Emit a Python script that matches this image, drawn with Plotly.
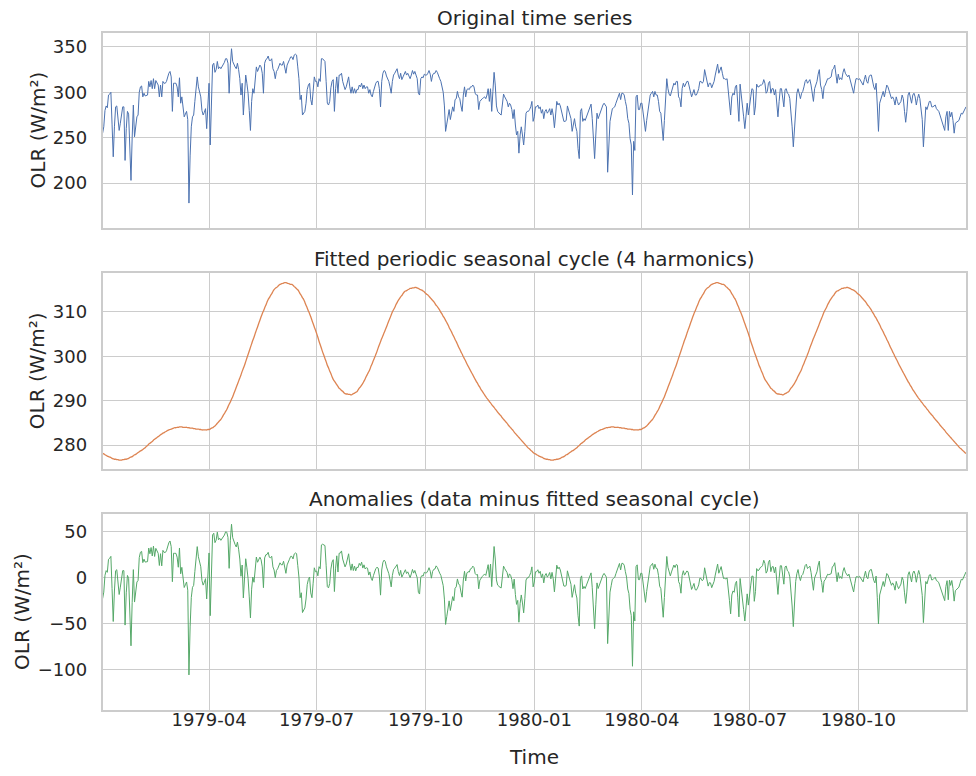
import numpy as np
import pandas as pd
import plotly.graph_objects as go

# ---------------- data ----------------
dates = pd.date_range("1979-01-01", "1980-12-31", freq="D")

olr = [
    255, 262, 280, 285, 283, 297, 298, 300, 265, 229,
    262, 284, 285, 270, 258, 266, 276, 284, 284, 225,
    260, 279, 276, 240, 203, 250, 286, 251, 265, 273,
    275, 300, 306, 307, 295, 299, 296, 297, 297, 312,
    306, 313, 304, 315, 304, 313, 310, 308, 295, 308,
    295, 312, 310, 310, 312, 318, 321, 323, 317, 279,
    310, 310, 310, 306, 295, 316, 288, 295, 282, 273,
    276, 279, 270, 178, 230, 262, 273, 275, 290, 305,
    317, 306, 300, 295, 280, 275, 278, 282, 260, 295,
    310, 242, 300, 330, 332, 322, 325, 334, 326, 328,
    326, 328, 330, 333, 337, 337, 332, 299, 330, 348,
    334, 330, 328, 326, 332, 325, 315, 297, 310, 275,
    293, 319, 310, 299, 280, 258, 290, 304, 299, 317,
    328, 323, 326, 330, 328, 321, 299, 332, 336, 337,
    340, 335, 335, 337, 326, 323, 315, 323, 325, 328,
    332, 330, 330, 334, 326, 321, 330, 334, 336, 339,
    339, 336, 341, 342, 341, 328, 315, 292, 297, 275,
    277, 279, 288, 303, 308, 310, 292, 286, 301, 317,
    312, 312, 306, 315, 312, 337, 337, 335, 334, 312,
    288, 286, 290, 305, 312, 314, 279, 304, 317, 299,
    319, 319, 321, 312, 306, 303, 306, 312, 317, 306,
    299, 306, 299, 304, 299, 303, 303, 308, 306, 310,
    304, 308, 304, 306, 306, 299, 303, 297, 295, 301,
    306, 310, 312, 312, 304, 284, 312, 321, 324, 323,
    318, 315, 312, 306, 299, 312, 319, 321, 324, 326,
    319, 315, 321, 314, 317, 321, 323, 319, 321, 318,
    315, 319, 324, 320, 323, 319, 315, 299, 297, 315,
    317, 316, 320, 319, 319, 321, 324, 320, 312, 319,
    321, 321, 324, 322, 317, 315, 312, 306, 300, 285,
    257, 265, 275, 281, 270, 278, 284, 279, 292, 293,
    301, 295, 293, 285, 279, 297, 306, 295, 303, 304,
    303, 306, 306, 308, 306, 299, 297, 297, 281, 290,
    292, 293, 294, 295, 293, 297, 304, 290, 304, 279,
    301, 322, 308, 285, 279, 277, 276, 275, 290, 298,
    295, 292, 290, 284, 288, 286, 281, 271, 281, 264,
    253, 257, 233, 253, 262, 253, 242, 257, 277, 279,
    279, 281, 284, 290, 268, 273, 284, 284, 286, 282,
    284, 277, 281, 271, 279, 281, 277, 279, 282, 275,
    282, 275, 261, 275, 290, 286, 288, 285, 279, 271,
    268, 268, 269, 285, 281, 275, 271, 257, 264, 271,
    262, 257, 238, 227, 279, 282, 268, 271, 269, 273,
    276, 279, 284, 287, 271, 253, 227, 253, 277, 271,
    275, 277, 282, 286, 288, 286, 284, 212, 242, 268,
    275, 282, 283, 284, 288, 292, 297, 299, 292, 299,
    299, 297, 290, 284, 271, 266, 249, 242, 187, 246,
    236, 295, 297, 281, 281, 288, 288, 275, 262, 257,
    269, 280, 288, 297, 299, 301, 295, 301, 297, 297,
    290, 279, 277, 260, 247, 269, 299, 315, 304, 298,
    296, 301, 306, 310, 308, 312, 312, 295, 293, 284,
    304, 310, 306, 309, 312, 312, 306, 303, 295, 299,
    303, 297, 297, 300, 304, 312, 312, 310, 312, 325,
    319, 310, 306, 310, 310, 305, 308, 312, 319, 326,
    331, 321, 326, 328, 321, 315, 315, 314, 315, 304,
    290, 275, 295, 299, 297, 306, 308, 290, 268, 309,
    299, 284, 273, 260, 275, 288, 275, 288, 295, 304,
    303, 275, 285, 309, 306, 306, 308, 308, 309, 314,
    310, 299, 301, 310, 312, 299, 304, 304, 297, 303,
    290, 273, 290, 304, 304, 290, 284, 303, 304, 299,
    298, 293, 279, 262, 240, 264, 290, 299, 304, 297,
    293, 299, 301, 306, 312, 314, 310, 312, 314, 308,
    301, 290, 304, 308, 312, 320, 325, 308, 303, 293,
    306, 308, 312, 315, 315, 316, 317, 325, 326, 330,
    321, 310, 320, 314, 316, 314, 322, 326, 321, 318,
    317, 319, 314, 312, 304, 299, 308, 315, 315, 314,
    315, 313, 310, 308, 314, 319, 312, 310, 317, 319,
    319, 312, 306, 303, 310, 286, 257, 288, 292, 297,
    301, 295, 304, 308, 306, 302, 297, 293, 295, 292,
    286, 295, 290, 286, 288, 290, 297, 293, 279, 267,
    279, 297, 300, 292, 288, 297, 299, 295, 286, 293,
    298, 293, 284, 270, 240, 268, 284, 281, 286, 290,
    290, 284, 284, 285, 286, 282, 281, 279, 275, 271,
    268, 262, 258, 273, 279, 258, 279, 273, 278, 269,
    255, 266, 267, 269, 269, 273, 277, 276, 279, 282,
    284,
]

# fitted seasonal cycle, one value per day of year (day 0 .. 365)
fit_year = [
    278.1, 278.0, 277.8, 277.7, 277.5, 277.4, 277.3, 277.2, 277.0, 276.9,
    276.8, 276.8, 276.7, 276.7, 276.6, 276.6, 276.6, 276.7, 276.7, 276.8,
    276.8, 276.9, 277.0, 277.2, 277.3, 277.4, 277.6, 277.8, 277.9, 278.1,
    278.3, 278.5, 278.7, 278.8, 279.0, 279.2, 279.4, 279.7, 279.9, 280.2,
    280.4, 280.6, 280.8, 281.1, 281.3, 281.5, 281.7, 281.9, 282.1, 282.3,
    282.5, 282.7, 282.8, 283.0, 283.1, 283.3, 283.4, 283.5, 283.6, 283.7,
    283.8, 283.9, 283.9, 284.0, 284.0, 284.1, 284.1, 284.1, 284.0, 284.0,
    284.0, 284.0, 283.9, 283.9, 283.8, 283.8, 283.8, 283.7, 283.7, 283.6,
    283.6, 283.6, 283.5, 283.5, 283.4, 283.4, 283.4, 283.4, 283.4, 283.5,
    283.5, 283.6, 283.8, 283.9, 284.1, 284.3, 284.6, 284.9, 285.2, 285.5,
    285.8, 286.2, 286.7, 287.1, 287.6, 288.0, 288.6, 289.2, 289.7, 290.3,
    290.9, 291.6, 292.3, 293.0, 293.7, 294.4, 295.1, 295.8, 296.6, 297.3,
    298.0, 298.8, 299.6, 300.4, 301.2, 302.0, 302.8, 303.6, 304.3, 305.1,
    305.9, 306.6, 307.4, 308.1, 308.9, 309.6, 310.2, 310.9, 311.5, 312.2,
    312.8, 313.2, 313.7, 314.1, 314.6, 315.0, 315.3, 315.5, 315.7, 316.0,
    316.2, 316.3, 316.4, 316.5, 316.6, 316.6, 316.5, 316.4, 316.3, 316.2,
    316.2, 316.0, 315.7, 315.5, 315.2, 315.0, 314.6, 314.1, 313.7, 313.2,
    312.8, 312.2, 311.5, 310.9, 310.2, 309.6, 308.9, 308.1, 307.4, 306.6,
    305.9, 305.1, 304.3, 303.4, 302.6, 301.8, 301.0, 300.3, 299.5, 298.8,
    298.0, 297.4, 296.7, 296.1, 295.4, 294.8, 294.4, 294.0, 293.6, 293.2,
    292.8, 292.6, 292.3, 292.1, 291.8, 291.6, 291.5, 291.5, 291.4, 291.4,
    291.3, 291.4, 291.6, 291.7, 291.9, 292.0, 292.4, 292.8, 293.1, 293.5,
    293.9, 294.4, 294.9, 295.5, 296.0, 296.5, 297.1, 297.8, 298.4, 299.1,
    299.7, 300.4, 301.1, 301.9, 302.6, 303.3, 304.0, 304.6, 305.3, 305.9,
    306.6, 307.3, 308.0, 308.6, 309.3, 310.0, 310.5, 311.0, 311.6, 312.1,
    312.6, 313.0, 313.4, 313.7, 314.1, 314.5, 314.7, 314.8, 315.0, 315.1,
    315.3, 315.3, 315.4, 315.4, 315.5, 315.5, 315.4, 315.3, 315.1, 315.0,
    314.9, 314.7, 314.5, 314.2, 314.0, 313.8, 313.5, 313.2, 312.9, 312.6,
    312.3, 311.9, 311.5, 311.2, 310.8, 310.4, 309.9, 309.5, 309.0, 308.6,
    308.1, 307.6, 307.1, 306.5, 306.0, 305.5, 304.9, 304.4, 303.8, 303.3,
    302.7, 302.1, 301.6, 301.0, 300.5, 299.9, 299.4, 298.9, 298.3, 297.8,
    297.3, 296.8, 296.3, 295.8, 295.3, 294.8, 294.3, 293.9, 293.4, 293.0,
    292.5, 292.1, 291.7, 291.3, 290.9, 290.5, 290.2, 289.8, 289.5, 289.1,
    288.8, 288.5, 288.1, 287.8, 287.4, 287.1, 286.8, 286.5, 286.1, 285.8,
    285.5, 285.2, 284.9, 284.5, 284.2, 283.9, 283.6, 283.3, 282.9, 282.6,
    282.3, 282.0, 281.7, 281.4, 281.1, 280.8, 280.5, 280.2, 279.9, 279.6,
    279.3, 279.1, 278.8, 278.6, 278.3, 278.1,
]

tick_dates = ["1979-04-01", "1979-07-01", "1979-10-01", "1980-01-01",
              "1980-04-01", "1980-07-01", "1980-10-01"]
tick_labels = ["1979-04", "1979-07", "1979-10", "1980-01",
               "1980-04", "1980-07", "1980-10"]

fit = np.array(fit_year[:365] + fit_year[:366])
anom = np.array(olr, dtype=float) - fit

# ---------------- figure ----------------
W, H = 976, 776
TXT = "#262626"
GRID = "#cccccc"
FONT = "DejaVu Sans"
TICK_SIZE = 18
LABEL_SIZE = 20

def px_x(x):
    return x / W

def px_y(y):
    return 1 - y / H

fig = go.Figure()
fig.add_trace(go.Scatter(x=dates, y=olr, mode="lines",
                         line=dict(color="#4c72b0", width=1), xaxis="x", yaxis="y", showlegend=False))
fig.add_trace(go.Scatter(x=dates, y=fit, mode="lines",
                         line=dict(color="#dd8452", width=1.3, shape="spline", smoothing=1),
                         xaxis="x2", yaxis="y2", showlegend=False))
fig.add_trace(go.Scatter(x=dates, y=anom, mode="lines",
                         line=dict(color="#55a868", width=1), xaxis="x3", yaxis="y3", showlegend=False))

xdom = [px_x(102.6), px_x(966)]
panels = [(33.3, 227.7), (273.3, 469.0), (514.0, 710.0)]

xcommon = dict(
    type="date", range=["1979-01-01", "1980-12-31"], domain=xdom,
    tickmode="array", tickvals=tick_dates, ticktext=tick_labels,
    showgrid=True, gridcolor=GRID, gridwidth=1.3,
    showline=True, linecolor=GRID, linewidth=1.6, mirror=True,
    zeroline=False, ticks="",
    tickfont=dict(family=FONT, size=TICK_SIZE, color=TXT),
)
ycommon = dict(
    showgrid=True, gridcolor=GRID, gridwidth=1.3,
    showline=True, linecolor=GRID, linewidth=1.6, mirror=True,
    zeroline=False, ticks="", ticklabelstandoff=10,
    tickfont=dict(family=FONT, size=TICK_SIZE, color=TXT),
)

fig.update_layout(
    width=W, height=H,
    margin=dict(l=0, r=0, t=0, b=0),
    paper_bgcolor="white", plot_bgcolor="white",
    font=dict(family=FONT, color=TXT, size=TICK_SIZE),
    xaxis=dict(xcommon, anchor="y", showticklabels=False),
    xaxis2=dict(xcommon, anchor="y2", showticklabels=False, matches="x"),
    xaxis3=dict(xcommon, anchor="y3", showticklabels=True, matches="x", ticklabelstandoff=-7),
    yaxis=dict(ycommon, anchor="x", domain=[px_y(panels[0][1]), px_y(panels[0][0])],
               range=[150.9, 365.0], tickvals=[200, 250, 300, 350]),
    yaxis2=dict(ycommon, anchor="x2", domain=[px_y(panels[1][1]), px_y(panels[1][0])],
                range=[274.6, 318.7], tickvals=[280, 290, 300, 310]),
    yaxis3=dict(ycommon, anchor="x3", domain=[px_y(panels[2][1]), px_y(panels[2][0])],
                range=[-144.0, 68.8], tickvals=[-100, -50, 0, 50]),
)

titles = ["Original time series",
          "Fitted periodic seasonal cycle (4 harmonics)",
          "Anomalies (data minus fitted seasonal cycle)"]
title_y = [18, 259, 499]
ylabel_x = [37, 37, 22]
xc = px_x((102.6 + 966) / 2)
ann = []
for t, ty, lx, (top, bot) in zip(titles, title_y, ylabel_x, panels):
    ann.append(dict(text=t, x=xc, y=px_y(ty), xref="paper", yref="paper",
                    xanchor="center", yanchor="middle", showarrow=False,
                    font=dict(family=FONT, size=LABEL_SIZE, color=TXT)))
    ann.append(dict(text="OLR (W/m²)", x=px_x(lx), y=px_y((top + bot) / 2),
                    xref="paper", yref="paper", xanchor="center", yanchor="middle",
                    textangle=-90, showarrow=False,
                    font=dict(family=FONT, size=LABEL_SIZE, color=TXT)))
ann.append(dict(text="Time", x=xc, y=px_y(757), xref="paper", yref="paper",
                xanchor="center", yanchor="middle", showarrow=False,
                font=dict(family=FONT, size=LABEL_SIZE, color=TXT)))
fig.update_layout(annotations=ann)

fig.write_html("out.html")
